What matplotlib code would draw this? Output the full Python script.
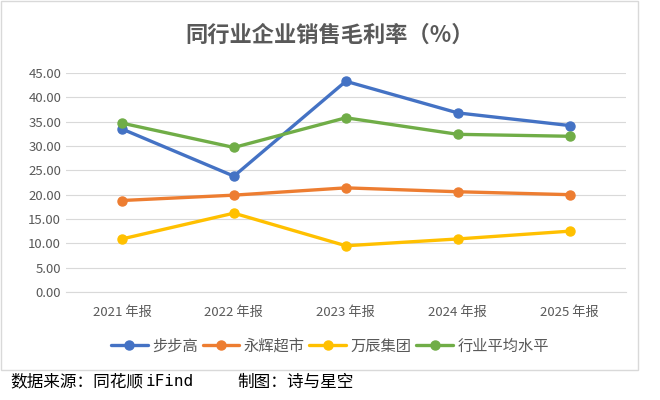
import matplotlib
matplotlib.use("Agg")
import matplotlib.pyplot as plt
from matplotlib.patches import Rectangle

plt.rcParams['font.family'] = ['Noto Sans CJK SC', 'DejaVu Sans']

years = ["2021 年报", "2022 年报", "2023 年报", "2024 年报", "2025 年报"]
bubugao = [33.5, 23.8, 43.3, 36.8, 34.2]
yonghui = [18.8, 19.9, 21.4, 20.6, 20.0]
wanchen = [10.9, 16.2, 9.5, 10.9, 12.5]
industry_avg = [34.7, 29.7, 35.8, 32.4, 32.0]

series = [
    ("步步高", bubugao, "#4472C4"),
    ("永辉超市", yonghui, "#ED7D31"),
    ("万辰集团", wanchen, "#FFC000"),
    ("行业平均水平", industry_avg, "#70AD47"),
]

fig = plt.figure(figsize=(6.6, 4.0), dpi=100)
ax = fig.add_axes([0.1, 0.27, 0.848, 0.5475])

x = range(len(years))
for name, vals, color in series:
    ax.plot(x, vals, color=color, lw=2.4, marker="o", markersize=6.5,
            label=name, solid_capstyle="round")

ax.set_xlim(-0.5, len(years) - 0.5)
ax.set_ylim(0, 45)
ax.set_yticks([i * 5 for i in range(10)])
ax.set_yticklabels([f"{i * 5:.2f}" for i in range(10)])
ax.set_xticks(list(x))
ax.set_xticklabels(years)
ax.tick_params(colors="#595959", labelsize=9.5, length=0)
ax.tick_params(axis="x", pad=10)
ax.grid(axis="y", color="#D9D9D9", lw=0.8)
ax.set_axisbelow(True)
for side in ["top", "right", "left"]:
    ax.spines[side].set_visible(False)
ax.spines["bottom"].set_color("#D9D9D9")

fig.text(0.5, 0.912, "同行业企业销售毛利率（%）", ha="center", va="center",
         fontsize=16, fontweight="bold", color="#595959")

ax.legend(loc="center", bbox_to_anchor=(0.5, 0.135), bbox_transform=fig.transFigure,
          ncol=4, frameon=False, fontsize=11, labelcolor="#595959",
          handlelength=2.4, columnspacing=0.3, handletextpad=0.3)

fig.patches.append(Rectangle((0.0015, 0.075), 0.965, 0.9225, transform=fig.transFigure,
                             fill=False, edgecolor="#D9D9D9", lw=1))

# footer
fy = 1 - 382 / 400
fig.text(10 / 660, fy, "数据来源：同花顺", ha="left", va="center",
         fontsize=12, color="black")
fig.text(146 / 660, fy, "iFind", ha="left", va="center",
         fontsize=11.5, color="black", family="DejaVu Sans Mono")
fig.text(237 / 660, fy, "制图：诗与星空", ha="left", va="center",
         fontsize=12, color="black")

fig.savefig("out.png", dpi=100)
